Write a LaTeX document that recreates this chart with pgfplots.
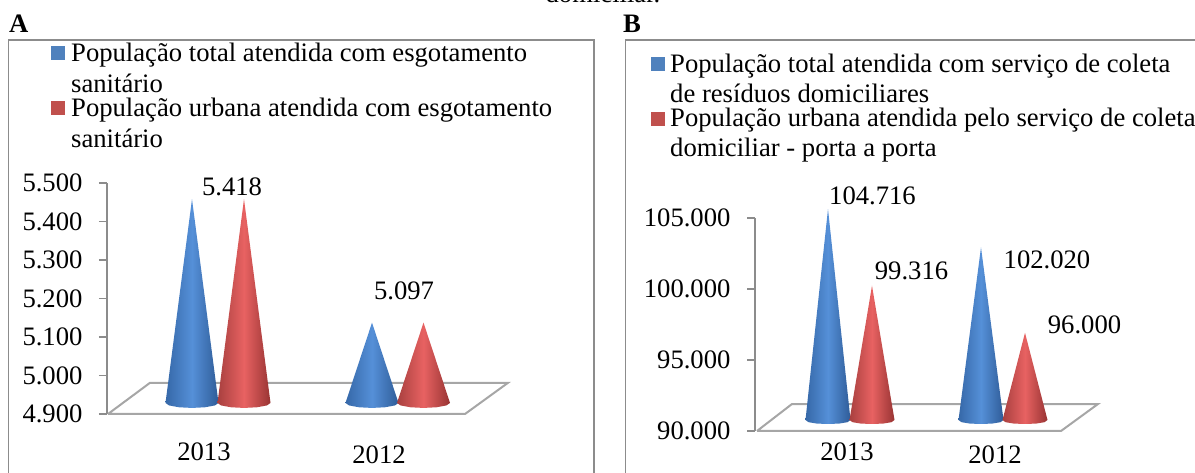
\documentclass[border=0pt]{standalone}
\usepackage{pgfplots}
\pgfplotsset{compat=1.18}
\usepackage{fontspec}
\setmainfont{Liberation Serif}
\newcommand{\myf}{\fontsize{26.65}{30}\selectfont}
\definecolor{axg}{HTML}{8C8C8C}
\definecolor{flg}{HTML}{A6A6A6}
\definecolor{legb}{HTML}{4F81BD}
\definecolor{legr}{HTML}{C0504D}
\definecolor{bl}{HTML}{3668A8}
\definecolor{bm}{HTML}{5590D8}
\definecolor{br}{HTML}{2F5C98}
\definecolor{rl}{HTML}{A8403F}
\definecolor{rm}{HTML}{E86262}
\definecolor{rr}{HTML}{983433}
\tikzset{
  bcone/.style={shade,draw=none,yshift=13pt,left color=bl,right color=br,middle color=bm,mark=none},
  rcone/.style={shade,draw=none,yshift=13pt,left color=rl,right color=rr,middle color=rm,mark=none},
  txt/.style={anchor=base west,inner sep=0pt,font=\myf},
  val/.style={anchor=base,inner sep=0pt,font=\myf},
}
\pgfplotsset{
  base/.style={
    scale only axis,
    axis lines=left,
    y axis line style={-,axg,line width=1.5pt},
    x axis line style={draw=none},
    tick align=outside,
    ytick style={axg,line width=1.5pt},
    xtick style={draw=none},
    major tick length=8pt,
    clip=false,
    scaled y ticks=false,
    tick label style={font=\myf},
    yticklabel style={xshift=-13pt,/pgf/number format/.cd,fixed,1000 sep={.},assume math mode=true},
    extra x tick style={xticklabel style={yshift=-3pt},tick style={draw=none}},
  }
}
\begin{document}
\begin{tikzpicture}[x=1pt,y=1pt]
\useasboundingbox (0,0) rectangle (1195,473);
\clip (0,0) rectangle (1195,473);
% frames
\draw[axg,line width=1.5pt] (8.5,-5) rectangle (594,433);
\draw[axg,line width=1.5pt] (625.5,-5) rectangle (1205,433);
% headings
\node[val] at (603,470) {domiciliar.};
\node[txt] at (9,440) {\textbf{A}};
\node[txt] at (623,440) {\textbf{B}};
% legend A
\fill[legb] (51,427) rectangle (65,413);
\fill[legr] (51,372) rectangle (65,358);
\node[txt] at (71,411) {População total atendida com esgotamento};
\node[txt] at (71,380) {sanitário};
\node[txt] at (71,356) {População urbana atendida com esgotamento};
\node[txt] at (71,325) {sanitário};
% legend B
\fill[legb] (651,416) rectangle (665,402);
\fill[legr] (651,361) rectangle (665,347);
\node[txt] at (670,400) {População total atendida com serviço de coleta};
\node[txt] at (670,370) {de resíduos domiciliares};
\node[txt] at (670,346) {População urbana atendida pelo serviço de coleta};
\node[txt] at (670,316) {domiciliar - porta a porta};
% chart A
\begin{axis}[base,at={(107pt,59pt)},anchor=south west,width=401pt,height=231pt,
  xmin=107,xmax=508,ymin=4900,ymax=5500,
  xticklabel style={anchor=base,yshift=-39pt},
  ytick={4900,5000,5100,5200,5300,5400,5500},
  xtick={204},xticklabels={2013},extra x ticks={379},extra x tick labels={2012}]
\addplot[flg,line width=2pt,mark=none] coordinates {(108,4900)(465,4900)(508,4981)(150,4981)(108,4900)};
\addplot[bcone,yshift=2.5pt] coordinates {(165.5,4888.5)(192,5418)(218.5,4888.5)(215,4882)(205,4877.2)(192,4875.5)(179,4877.2)(169,4882)};
\addplot[rcone,yshift=2.5pt] coordinates {(217.5,4888.5)(244,5418)(270.5,4888.5)(267,4882)(257,4877.2)(244,4875.5)(231,4877.2)(221,4882)};
\addplot[bcone,yshift=2.5pt] coordinates {(345.5,4888.5)(372,5097)(398.5,4888.5)(395,4882)(385,4877.2)(372,4875.5)(359,4877.2)(349,4882)};
\addplot[rcone,yshift=2.5pt] coordinates {(397,4888.5)(423.5,5097)(450,4888.5)(446.5,4882)(436.5,4877.2)(423.5,4875.5)(410.5,4877.2)(400.5,4882)};
\end{axis}
\node[val] at (232,277) {5.418};
\node[val] at (404,173) {5.097};
% chart B
\begin{axis}[base,at={(755pt,42pt)},anchor=south west,width=343pt,height=213pt,
  xmin=755,xmax=1098,ymin=90000,ymax=105000,
  xticklabel style={anchor=base,yshift=-22pt},
  ytick={90000,95000,100000,105000},
  xtick={847},xticklabels={2013},extra x ticks={995},extra x tick labels={2012}]
\addplot[flg,line width=2pt,mark=none] coordinates {(757,90000)(1061,90000)(1098,91901)(792,91901)(757,90000)};
\addplot[bcone] coordinates {(805.5,89860)(828,104716)(850.5,89860)(847.5,89705)(839,89606)(828,89578)(817,89606)(808.5,89705)};
\addplot[rcone] coordinates {(849.5,89860)(872,99316)(894.5,89860)(891.5,89705)(883,89606)(872,89578)(861,89606)(852.5,89705)};
\addplot[bcone] coordinates {(958.5,89860)(981,102020)(1003.5,89860)(1000.5,89705)(992,89606)(981,89578)(970,89606)(961.5,89705)};
\addplot[rcone] coordinates {(1002.5,89860)(1025,96000)(1047.5,89860)(1044.5,89705)(1036,89606)(1025,89578)(1014,89606)(1005.5,89705)};
\end{axis}
\node[val] at (872.5,268) {104.716};
\node[val] at (911.5,193) {99.316};
\node[val] at (1047,204) {102.020};
\node[val] at (1084.5,139) {96.000};
\end{tikzpicture}
\end{document}
